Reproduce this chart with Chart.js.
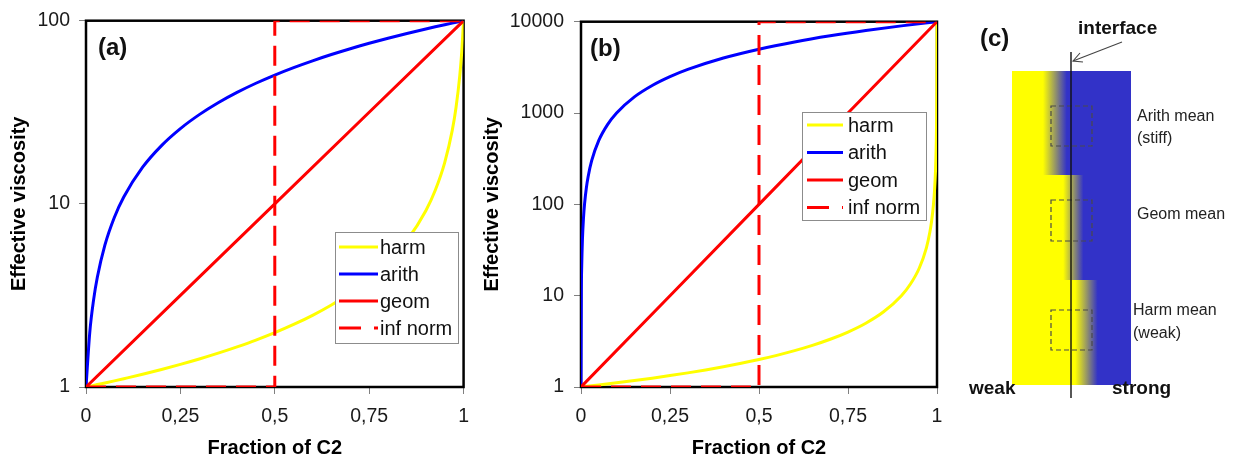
<!DOCTYPE html>
<html>
<head>
<meta charset="utf-8">
<title>Effective viscosity of a two-phase mixture</title>
<script src="https://cdn.jsdelivr.net/npm/chart.js@4.4.1/dist/chart.umd.min.js"></script>
<style>
  html, body { margin: 0; padding: 0; background: #fff; }
  #wrap { position: relative; width: 1234px; height: 462px; overflow: hidden; font-family: "Liberation Sans", Arial, sans-serif; }
  canvas { position: absolute; top: 0; }
  #ca { left: 0; }
  #cb { left: 480px; }
  #sketch { position: absolute; left: 950px; top: 0; }
</style>
</head>
<body>
<div id="wrap">
  <canvas id="ca" width="480" height="462"></canvas>
  <canvas id="cb" width="480" height="462"></canvas>
  <svg id="sketch" width="284" height="462" viewBox="0 0 284 462" xmlns="http://www.w3.org/2000/svg">
    <defs>
      <linearGradient id="gStiff" x1="0" x2="1" y1="0" y2="0">
        <stop offset="0.26" stop-color="#ffff00"/>
        <stop offset="0.46" stop-color="#3232c8"/>
      </linearGradient>
      <linearGradient id="gGeom" x1="0" x2="1" y1="0" y2="0">
        <stop offset="0.43" stop-color="#ffff00"/>
        <stop offset="0.60" stop-color="#3232c8"/>
      </linearGradient>
      <linearGradient id="gWeak" x1="0" x2="1" y1="0" y2="0">
        <stop offset="0.53" stop-color="#ffff00"/>
        <stop offset="0.72" stop-color="#3232c8"/>
      </linearGradient>
    </defs>
    <!-- material column, three averaging regimes -->
    <rect x="62" y="71" width="119" height="104" fill="url(#gStiff)"/>
    <rect x="62" y="175" width="119" height="105" fill="url(#gGeom)"/>
    <rect x="62" y="280" width="119" height="105" fill="url(#gWeak)"/>
    <!-- averaging cells -->
    <g fill="none" stroke="#4a4a4a" stroke-width="1.2" stroke-dasharray="5 3">
      <rect x="101" y="106" width="41" height="40"/>
      <rect x="101" y="200" width="41" height="41"/>
      <rect x="101" y="310" width="41" height="40"/>
    </g>
    <!-- interface line and pointer -->
    <line x1="121" y1="52" x2="121" y2="398" stroke="#111" stroke-width="1.4"/>
    <line x1="172" y1="42" x2="123" y2="61" stroke="#444" stroke-width="1.1"/>
    <polyline points="130,53 123,61 133,62" fill="none" stroke="#444" stroke-width="1.1"/>
    <g font-family="Liberation Sans, Arial, sans-serif" dominant-baseline="central">
      <text x="30" y="37" font-size="24" font-weight="bold" fill="#111">(c)</text>
      <text x="128" y="27" font-size="19" font-weight="bold" fill="#111">interface</text>
      <text x="187" y="115" font-size="16" fill="#222">Arith mean</text>
      <text x="187" y="137" font-size="16" fill="#222">(stiff)</text>
      <text x="187" y="213" font-size="16" fill="#222">Geom mean</text>
      <text x="183" y="309" font-size="16" fill="#222">Harm mean</text>
      <text x="183" y="332" font-size="16" fill="#222">(weak)</text>
      <text x="19" y="387" font-size="19" font-weight="bold" fill="#111">weak</text>
      <text x="162" y="387" font-size="19" font-weight="bold" fill="#111">strong</text>
    </g>
  </svg>
</div>
<script>
// Axis ticks
const xTickValues = [0, 0.25, 0.5, 0.75, 1];
const xTickLabels = ['0', '0,25', '0,5', '0,75', '1'];
const yTicksA = [1, 10, 100];
const yTicksB = [1, 10, 100, 1000, 10000];

// Panel (a): viscosity contrast 1 : 100
const fracA  = [0, 0.01, 0.02, 0.03, 0.05, 0.075, 0.1, 0.15, 0.2, 0.25, 0.3, 0.35, 0.4, 0.45, 0.5, 0.55, 0.6, 0.65, 0.7, 0.75, 0.8, 0.85, 0.9, 0.925, 0.95, 0.97, 0.98, 0.99, 0.995, 1];
const harmA  = [1, 1.01, 1.02, 1.031, 1.052, 1.08, 1.11, 1.174, 1.247, 1.329, 1.422, 1.53, 1.656, 1.803, 1.98, 2.195, 2.463, 2.805, 3.257, 3.883, 4.808, 6.309, 9.174, 11.87, 16.81, 25.19, 33.56, 50.25, 66.89, 100];
const arithA = [1, 1.99, 2.98, 3.97, 5.95, 8.43, 10.9, 15.85, 20.8, 25.75, 30.7, 35.65, 40.6, 45.55, 50.5, 55.45, 60.4, 65.35, 70.3, 75.25, 80.2, 85.15, 90.1, 92.58, 95.05, 97.03, 98.02, 99.01, 99.5, 100];
const geomFrac = [0, 0.25, 0.5, 0.75, 1];
const geomA  = [1, 3.162, 10, 31.62, 100];
const infFrac = [0, 0.5, 0.5, 1];
const infA   = [1, 1, 100, 100];

// Panel (b): viscosity contrast 1 : 10000
const fracArithB = [0, 0.001, 0.002, 0.004, 0.007, 0.01, 0.015, 0.02, 0.03, 0.05, 0.075, 0.1, 0.15, 0.2, 0.25, 0.3, 0.4, 0.5, 0.6, 0.7, 0.8, 0.9, 1];
const arithB = [1, 11, 21, 41, 71, 101, 151, 201, 301, 501, 751, 1001, 1501, 2001, 2501, 3001, 4001, 5000, 6000, 7000, 8000, 9000, 10000];
const fracHarmB = [0, 0.05, 0.1, 0.15, 0.2, 0.25, 0.3, 0.35, 0.4, 0.45, 0.5, 0.55, 0.6, 0.65, 0.7, 0.75, 0.8, 0.85, 0.9, 0.925, 0.95, 0.97, 0.98, 0.985, 0.99, 0.993, 0.996, 0.998, 0.999, 0.9995, 0.9998, 1];
const harmB  = [1, 1.053, 1.111, 1.176, 1.25, 1.333, 1.428, 1.538, 1.666, 1.818, 2.0, 2.222, 2.5, 2.857, 3.332, 3.998, 4.995, 6.663, 9.99, 13.32, 19.96, 33.23, 49.75, 66.23, 99.02, 140.9, 243.9, 476.2, 909.2, 1667, 3334, 10000];
const geomB  = [1, 10, 100, 1000, 10000];
const infB   = [1, 1, 10000, 10000];

const FONT = '"Liberation Sans", Arial, sans-serif';
Chart.defaults.font.family = FONT;

function pts(xs, ys) { return xs.map((x, i) => ({ x: x, y: ys[i] })); }

// Black frame round the plot area, panel tag in the corner
const framePlugin = {
  id: 'frame',
  beforeDatasetsDraw(chart) {
    const { ctx, chartArea: a } = chart;
    ctx.save();
    ctx.strokeStyle = '#000';
    ctx.lineWidth = 2.5;
    ctx.strokeRect(a.left, a.top, a.right - a.left, a.bottom - a.top);
    ctx.restore();
  },
  afterDraw(chart, args, opts) {
    const { ctx, chartArea: a } = chart;
    ctx.save();
    ctx.font = 'bold 24px ' + FONT;
    ctx.fillStyle = '#111';
    ctx.textBaseline = 'middle';
    ctx.fillText(opts.text, a.left + opts.dx, a.top + opts.dy);
    ctx.restore();
  }
};

// Boxed legend inside the plot
const boxLegend = {
  id: 'boxLegend',
  afterDatasetsDraw(chart, args, o) {
    const ctx = chart.ctx;
    ctx.save();
    ctx.fillStyle = '#fff';
    ctx.fillRect(o.left, o.top, o.w, o.h);
    ctx.strokeStyle = '#8c8c8c';
    ctx.lineWidth = 1;
    ctx.strokeRect(o.left + 0.5, o.top + 0.5, o.w, o.h);
    ctx.font = '20px ' + FONT;
    ctx.textBaseline = 'middle';
    chart.data.datasets.forEach((ds, i) => {
      const cy = o.top + o.first + i * o.step;
      ctx.strokeStyle = ds.borderColor;
      ctx.lineWidth = 3;
      ctx.setLineDash(ds.borderDash ? o.dash : []);
      ctx.beginPath();
      ctx.moveTo(o.left + o.lineX, cy);
      ctx.lineTo(o.left + o.lineX + o.lineLen, cy);
      ctx.stroke();
      ctx.setLineDash([]);
      ctx.fillStyle = '#111';
      ctx.fillText(ds.label, o.left + o.textX, cy + 1);
    });
    ctx.restore();
  }
};

function makeChart(id, sets, yTicks, yMax, lay) {
  const tickFont = { size: 19.5, family: FONT };
  const titleFont = { size: 20, weight: 'bold', family: FONT };
  return new Chart(document.getElementById(id), {
    type: 'line',
    data: {
      datasets: [
        { label: 'harm', data: pts(sets.harmX, sets.harm), borderColor: '#ffff00', order: 4, cubicInterpolationMode: 'monotone' },
        { label: 'arith', data: pts(sets.arithX, sets.arith), borderColor: '#0000ff', order: 3, cubicInterpolationMode: 'monotone' },
        { label: 'geom', data: pts(geomFrac, sets.geom), borderColor: '#ff0000', order: 2 },
        { label: 'inf norm', data: pts(infFrac, sets.inf), borderColor: '#ff0000', borderDash: [20, 10], order: 1 }
      ]
    },
    options: {
      responsive: false,
      animation: false,
      devicePixelRatio: 1,
      events: [],
      elements: {
        line: { borderWidth: 3, tension: 0, fill: false },
        point: { radius: 0 }
      },
      layout: { padding: { left: 0, right: lay.padRight, top: 15, bottom: 0 } },
      scales: {
        x: {
          type: 'linear', min: 0, max: 1,
          afterBuildTicks: s => { s.ticks = xTickValues.map(v => ({ value: v })); },
          afterFit: s => { s.height = 75; },
          ticks: {
            callback: v => xTickLabels[xTickValues.indexOf(v)],
            font: tickFont, color: '#1a1a1a', padding: 11, maxRotation: 0, autoSkip: false
          },
          grid: { drawOnChartArea: false, drawTicks: true, tickLength: 7, tickColor: '#808080', color: '#808080' },
          border: { display: false },
          title: { display: true, text: 'Fraction of C2', font: titleFont, color: '#000', padding: { top: 0, bottom: 2 } }
        },
        y: {
          type: 'logarithmic', min: 1, max: yMax,
          afterBuildTicks: s => { s.ticks = yTicks.map(v => ({ value: v })); },
          afterFit: s => { s.width = lay.yWidth; },
          ticks: {
            callback: v => String(v),
            font: tickFont, color: '#1a1a1a', padding: lay.yPad, autoSkip: false
          },
          grid: { drawOnChartArea: false, drawTicks: true, tickLength: 7, tickColor: '#808080', color: '#808080' },
          border: { display: false },
          title: { display: true, text: 'Effective viscosity', font: titleFont, color: '#000', padding: { top: lay.yTitlePad, bottom: 0 } }
        }
      },
      plugins: {
        legend: { display: false },
        tooltip: { enabled: false },
        frame: { text: lay.tag, dx: lay.tagDx, dy: 27.5 },
        boxLegend: lay.legend
      }
    },
    plugins: [framePlugin, boxLegend]
  });
}

makeChart('ca',
  { harmX: fracA, harm: harmA, arithX: fracA, arith: arithA, geom: geomA, inf: infA },
  yTicksA, 100,
  { padRight: 16, yWidth: 86, yPad: 9, yTitlePad: 7, tag: '(a)', tagDx: 12,
    legend: { left: 335, top: 232, w: 123, h: 111, first: 15, step: 27, lineX: 4, lineLen: 39, textX: 45, dash: [22, 13] } });

makeChart('cb',
  { harmX: fracHarmB, harm: harmB, arithX: fracArithB, arith: arithB, geom: geomB, inf: infB },
  yTicksB, 10000,
  { padRight: 23, yWidth: 101, yPad: 10, yTitlePad: 0, tag: '(b)', tagDx: 9,
    legend: { left: 322, top: 112, w: 124, h: 108, first: 13, step: 27.5, lineX: 5, lineLen: 36, textX: 46, dash: [22, 13] } });
</script>
</body>
</html>
